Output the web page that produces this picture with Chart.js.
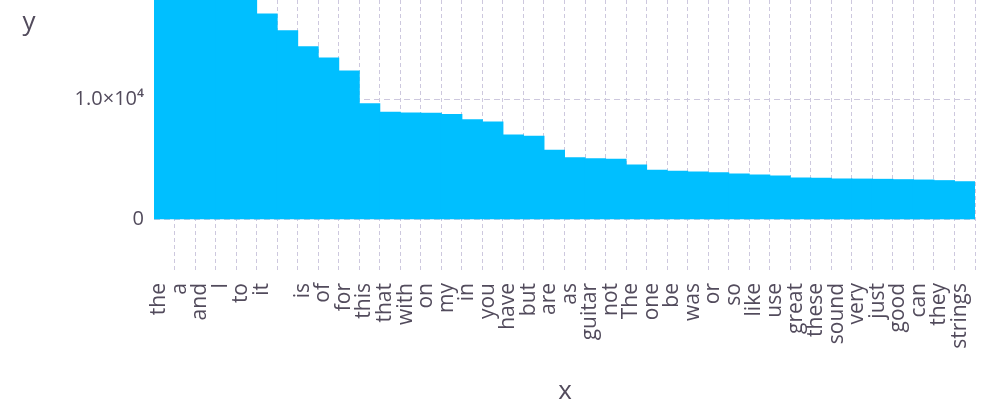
<!DOCTYPE html>
<html>
<head>
<meta charset="utf-8">
<script src="https://cdn.jsdelivr.net/npm/chart.js@4/dist/chart.umd.min.js"></script>
<style>
  html, body { margin: 0; padding: 0; background: #ffffff; }
  #wrap { width: 1000px; height: 420px; position: relative; }
</style>
</head>
<body>
<div id="wrap"><canvas id="c"></canvas></div>
<script>
// ---- data ----
const words = ["the","a","and","I","to","it","","is","of","for","this","that","with","on","my","in","you","have","but","are","as","guitar","not","The","one","be","was","or","so","like","use","great","these","sound","very","just","good","can","they","strings"];
const counts = [41000, 26500, 25500, 23500, 20000, 17100, 15700, 14380, 13440, 12360, 9630, 8920, 8860, 8830, 8740, 8300, 8110, 7030, 6920, 5750, 5130, 5050, 5000, 4530, 4080, 4000, 3940, 3880, 3780, 3690, 3610, 3440, 3420, 3360, 3350, 3330, 3300, 3270, 3220, 3130];
const yTicks = [0, 10000];
const yMin = -4390;
const yMax = 18270;
const xTitle = "x";
const yTitle = "y";

// ---- style ----
const textColor = "#524b5c";
const gridColor = "#cdc8de";
const barColor = "#00bfff";
const fontFamily = "'Open Sans', 'Noto Sans', sans-serif";

const sup = {"0":"⁰","1":"¹","2":"²","3":"³","4":"⁴","5":"⁵","6":"⁶","7":"⁷","8":"⁸","9":"⁹","-":"⁻"};
function sci(v) {
  if (v === 0) return "0";
  const e = Math.floor(Math.log10(Math.abs(v)));
  const m = v / Math.pow(10, e);
  return m.toFixed(1) + "×10" + String(e).split("").map(c => sup[c]).join("");
}

const titlesPlugin = {
  id: "titles",
  afterDraw(chart) {
    const ctx = chart.ctx;
    ctx.save();
    ctx.fillStyle = textColor;
    ctx.font = "26px " + fontFamily;
    ctx.textAlign = "center";
    ctx.textBaseline = "alphabetic";
    ctx.fillText(yTitle, 29, 30);
    ctx.fillText(xTitle, 565, 399);
    ctx.restore();
  }
};

new Chart(document.getElementById("c"), {
  type: "bar",
  data: {
    labels: words,
    datasets: [{
      data: counts,
      backgroundColor: barColor,
      borderWidth: 0,
      barPercentage: 1,
      categoryPercentage: 1,
      inflateAmount: 0.5
    }]
  },
  options: {
    responsive: true,
    maintainAspectRatio: false,
    animation: false,
    layout: { padding: { left: 0, right: 25, top: 0, bottom: 0 } },
    plugins: { legend: { display: false }, tooltip: { enabled: false } },
    scales: {
      x: {
        offset: true,
        grid: {
          offset: true,
          drawTicks: false,
          tickLength: 0,
          lineWidth: 1,
          color: ctx => (ctx.index === 0 || ctx.index >= words.length) ? "rgba(0,0,0,0)" : gridColor
        },
        border: { display: false, dash: [4, 3] },
        ticks: {
          autoSkip: false,
          minRotation: 90,
          maxRotation: 90,
          padding: 11,
          labelOffset: -5,
          color: textColor,
          font: { family: fontFamily, size: 21 }
        },
        afterFit(scale) {
          scale.height = 148;
          scale.paddingLeft = 0; scale.paddingRight = 0;
        }
      },
      y: {
        min: yMin,
        max: yMax,
        border: { display: false, dash: [6, 4] },
        grid: {
          drawTicks: false,
          tickLength: 0,
          color: gridColor,
          lineWidth: 1
        },
        ticks: {
          padding: 10,
          color: textColor,
          font: { family: fontFamily, size: 20 },
          callback: v => sci(v)
        },
        afterBuildTicks(scale) { scale.ticks = yTicks.map(v => ({ value: v })); },
        afterFit(scale) {
          scale.width = 154;
          scale.paddingTop = 0; scale.paddingBottom = 0;
        }
      }
    }
  },
  plugins: [titlesPlugin]
});
</script>
</body>
</html>
